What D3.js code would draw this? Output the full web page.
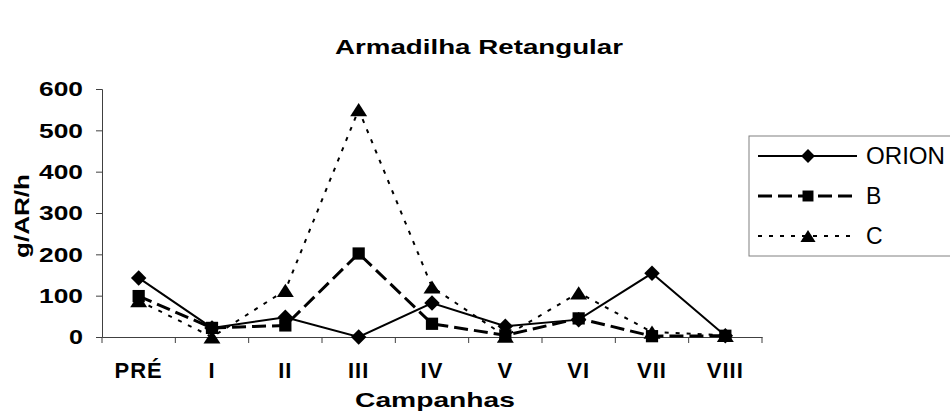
<!DOCTYPE html>
<html>
<head>
<meta charset="utf-8">
<script src="https://cdn.jsdelivr.net/npm/d3@7"></script>
<style>
    body { margin: 0; background: #fff; }
    svg text { font-family: "Liberation Sans", Arial, sans-serif; fill: #000; }
</style>
</head>
<body>
<div id="graph"></div>
<script>
// Campaigns on the x axis
const categories = ["PRÉ", "I", "II", "III", "IV", "V", "VI", "VII", "VIII"];

// Values (g/AR/h)
const orionValues = [143, 22, 48, 0, 82, 26, 42, 154, 3];
const bValues = [99, 22, 28, 202, 32, 4, 45, 2, 3];
const cValues = [88, 0, 113, 550, 121, 2, 107, 12, 4];

const seriesNames = ["ORION", "B", "C"];
const yTicks = [0, 100, 200, 300, 400, 500, 600];

const width = 950, height = 414;
const margin = {top: 89, right: 188, bottom: 77, left: 102};
const plotW = width - margin.left - margin.right;
const plotH = height - margin.top - margin.bottom;

let root = d3.select("#graph")
    .append("svg")
    .attr("width", width)
    .attr("height", height);

let svg = root.append("g")
    .attr("transform", `translate(${margin.left}, ${margin.top})`);

let x = d3.scaleBand()
    .domain(categories)
    .range([0, plotW])
    .padding(0);

let y = d3.scaleLinear()
    .domain([0, 600])
    .range([plotH, 0]);

// custom flat triangle like the Excel marker
const flatTriangle = {
    draw(ctx, size) {
        const w = Math.sqrt(size) * 1.3, h = w * 0.78;
        ctx.moveTo(0, -h / 2);
        ctx.lineTo(w / 2, h / 2);
        ctx.lineTo(-w / 2, h / 2);
        ctx.closePath();
    }
};

const styles = {
    "ORION": {dash: null, sw: 2, symbol: d3.symbolSquare, size: 120, rotate: 45},
    "B": {dash: "14,6", sw: 3, symbol: d3.symbolSquare, size: 150, rotate: 0},
    "C": {dash: "4,7", sw: 2, symbol: flatTriangle, size: 170, rotate: 0}
};

const seriesData = [orionValues, bValues, cValues].map(function (vals, i) {
    return {
        name: seriesNames[i],
        points: vals.map(function (v, j) { return {cat: categories[j], value: v}; })
    };
});

// Y axis
let yAxis = svg.append("g")
    .call(d3.axisLeft(y).tickValues(yTicks).tickSize(6).tickPadding(13));
yAxis.select(".domain").attr("stroke", "#404040");
yAxis.selectAll(".tick line").attr("stroke", "#404040");
yAxis.selectAll(".tick text")
    .attr("font-size", 21)
    .attr("font-weight", "bold")
    .attr("fill", "#000")
    .attr("textLength", function (d) { return String(d).length * 15 - 1; })
    .attr("lengthAdjust", "spacingAndGlyphs");

// X axis - labels centred, tick marks between categories
let xAxis = svg.append("g")
    .attr("transform", `translate(0, ${plotH})`)
    .call(d3.axisBottom(x).tickSize(0));
xAxis.select(".domain").attr("stroke", "#404040");
xAxis.selectAll(".tick text")
    .attr("y", 41)
    .attr("dy", 0)
    .attr("font-size", 22)
    .attr("font-weight", "bold")
    .attr("fill", "#000")
    .style("letter-spacing", "1px");

const bounds = categories.map(function (d) { return x(d); }).concat([x.range()[1]]);
svg.append("g")
    .selectAll("line")
    .data(bounds)
    .enter()
    .append("line")
    .attr("x1", function (d) { return d; })
    .attr("x2", function (d) { return d; })
    .attr("y1", plotH)
    .attr("y2", plotH + 6)
    .attr("stroke", "#404040");

// Lines and markers
let line = d3.line()
    .x(function (d) { return x(d.cat) + x.bandwidth() / 2; })
    .y(function (d) { return y(d.value); });

seriesData.forEach(function (s) {
    const st = styles[s.name];
    let g = svg.append("g");
    g.append("path")
        .datum(s.points)
        .attr("d", line)
        .attr("fill", "none")
        .attr("stroke", "#000")
        .attr("stroke-width", st.sw)
        .attr("stroke-dasharray", st.dash);
    g.selectAll("path.marker")
        .data(s.points)
        .enter()
        .append("path")
        .attr("class", "marker")
        .attr("d", d3.symbol().type(st.symbol).size(st.size))
        .attr("transform", function (d) {
            return `translate(${x(d.cat) + x.bandwidth() / 2}, ${y(d.value)}) rotate(${st.rotate})`;
        })
        .attr("fill", "#000");
});

// Axis titles
svg.append("text")
    .attr("transform", `translate(${-margin.left + 29}, ${plotH / 2 + 3}) rotate(-90)`)
    .attr("text-anchor", "middle")
    .attr("font-size", 20)
    .attr("font-weight", "bold")
    .attr("textLength", 84)
    .attr("lengthAdjust", "spacingAndGlyphs")
    .text("g/AR/h");

svg.append("text")
    .attr("transform", `translate(${plotW / 2 + 3}, ${plotH + 70})`)
    .attr("text-anchor", "middle")
    .attr("font-size", 21)
    .attr("font-weight", "bold")
    .attr("textLength", 160)
    .attr("lengthAdjust", "spacingAndGlyphs")
    .text("Campanhas");

// Chart title
root.append("text")
    .attr("x", 479)
    .attr("y", 54)
    .attr("text-anchor", "middle")
    .attr("font-size", 21)
    .attr("font-weight", "bold")
    .attr("textLength", 288)
    .attr("lengthAdjust", "spacingAndGlyphs")
    .text("Armadilha Retangular");

// Legend
let legend = root.append("g")
    .attr("transform", "translate(749, 136)");
legend.append("rect")
    .attr("width", 260)
    .attr("height", 120)
    .attr("fill", "#fff")
    .attr("stroke", "#808080");

seriesNames.forEach(function (name, i) {
    const st = styles[name];
    const cy = 20 + i * 40;
    legend.append("line")
        .attr("x1", 9).attr("x2", 108)
        .attr("y1", cy).attr("y2", cy)
        .attr("stroke", "#000")
        .attr("stroke-width", st.sw)
        .attr("stroke-dasharray", st.dash);
    legend.append("path")
        .attr("d", d3.symbol().type(st.symbol).size(st.size * 0.8))
        .attr("transform", `translate(59, ${cy}) rotate(${st.rotate})`)
        .attr("fill", "#000");
    legend.append("text")
        .attr("x", 117)
        .attr("y", cy + 8)
        .attr("font-size", 23)
        .attr("textLength", 79)
        .attr("lengthAdjust", "spacingAndGlyphs")
        .attr("textLength", name === "ORION" ? 79 : null)
        .text(name);
});
</script>
</body>
</html>
